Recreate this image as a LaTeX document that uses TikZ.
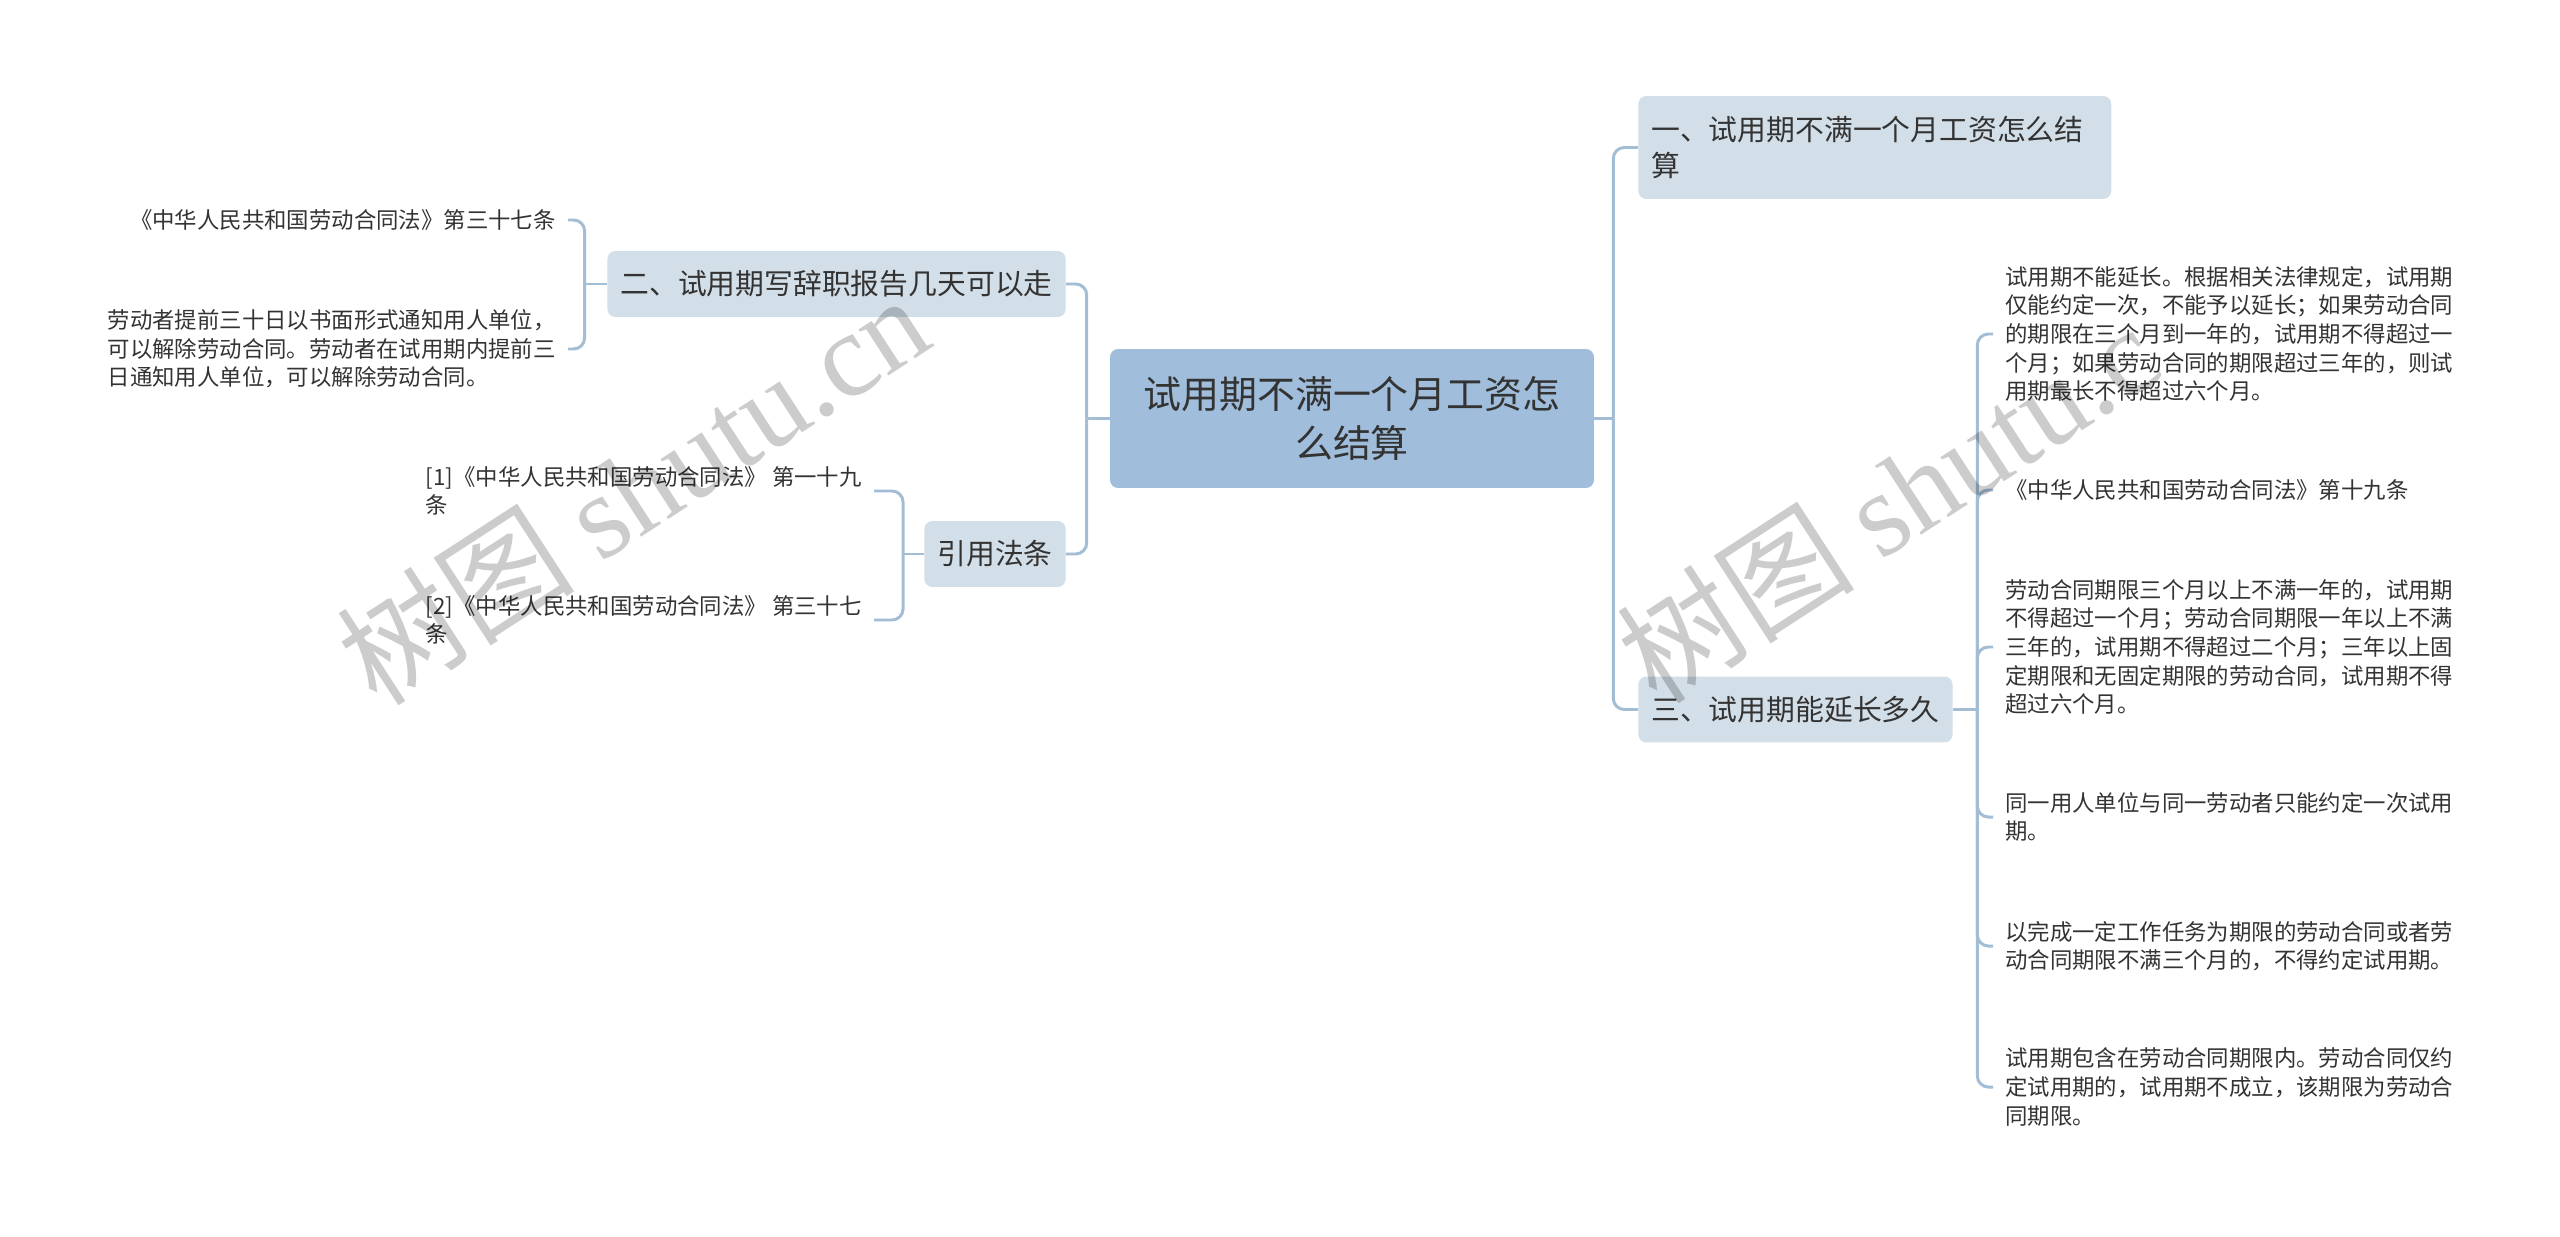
\documentclass[tikz,border=0pt]{standalone}
\usepackage{fontspec}
\setmainfont{Noto Sans CJK SC}
\newfontfamily\wmfont{Liberation Serif}
\usepackage{xcolor}
\usepackage{tikz}

\definecolor{rootblue}{HTML}{A0BEDB}
\definecolor{topicgray}{HTML}{D3DFE8}
\definecolor{linkblue}{HTML}{A3BDD5}
\definecolor{ink}{HTML}{333333}

\begin{document}
\begin{tikzpicture}[
  x=0.02cm, y=-0.02cm,
  every node/.style={text=ink, inner ysep=0pt},
  root/.style={fill=rootblue, rounded corners=0.16cm, align=center,
    minimum width=9.68cm, minimum height=2.78cm,
    font=\fontsize{21.6}{27.6}\selectfont},
  topic/.style={fill=topicgray, rounded corners=0.16cm, inner xsep=0.26cm,
    minimum height=1.32cm, font=\fontsize{16.4}{20.5}\selectfont},
  leaf/.style={inner xsep=0.24cm, align=left,
    font=\fontsize{12.75}{16.3}\selectfont},
  link/.style={draw=linkblue, line width=1.7pt, rounded corners=0.22cm},
  wmark/.style={text=black, opacity=0.2, rotate=33, anchor=base west,
    font=\fontsize{68}{68}\selectfont}
]
\path[use as bounding box, fill=white] (0,0) rectangle (2560,1237);

% centre
\node[root] (root) at (1352,418.5) {试用期不满一个月工资怎\\么结算};

% right side
\node[topic, anchor=west, text width=8.94cm, align=left, minimum height=2.06cm]
  (one) at (1638,147.5) {一、试用期不满一个月工资怎么结\\算};
\node[topic, anchor=west] (three) at (1638,709.5) {三、试用期能延长多久};

\node[leaf, anchor=west] (t1) at (1993,334) {试用期不能延长。根据相关法律规定，试用期\\仅能约定一次，不能予以延长；如果劳动合同\\的期限在三个月到一年的，试用期不得超过一\\个月；如果劳动合同的期限超过三年的，则试\\用期最长不得超过六个月。};
\node[leaf, anchor=west] (t2) at (1993,490) {《中华人民共和国劳动合同法》第十九条};
\node[leaf, anchor=west] (t3) at (1993,647) {劳动合同期限三个月以上不满一年的，试用期\\不得超过一个月；劳动合同期限一年以上不满\\三年的，试用期不得超过二个月；三年以上固\\定期限和无固定期限的劳动合同，试用期不得\\超过六个月。};
\node[leaf, anchor=west] (t4) at (1993,817) {同一用人单位与同一劳动者只能约定一次试用\\期。};
\node[leaf, anchor=west] (t5) at (1993,946) {以完成一定工作任务为期限的劳动合同或者劳\\动合同期限不满三个月的，不得约定试用期。};
\node[leaf, anchor=west] (t6) at (1993,1087) {试用期包含在劳动合同期限内。劳动合同仅约\\定试用期的，试用期不成立，该期限为劳动合\\同期限。};

% left side
\node[topic, anchor=east] (two) at (1066,284) {二、试用期写辞职报告几天可以走};
\node[topic, anchor=east] (cite) at (1066,554) {引用法条};

\node[leaf, anchor=east] (s1) at (568,220) {《中华人民共和国劳动合同法》第三十七条};
\node[leaf, anchor=east] (s2) at (568,349) {劳动者提前三十日以书面形式通知用人单位，\\可以解除劳动合同。劳动者在试用期内提前三\\日通知用人单位，可以解除劳动合同。};

\node[leaf, anchor=east] (c1) at (874,491) {[1]《中华人民共和国劳动合同法》 第一十九\\条};
\node[leaf, anchor=east] (c2) at (874,620) {[2]《中华人民共和国劳动合同法》 第三十七\\条};

% connectors
\draw[link] (root.east) -- ++(19,0) coordinate (rj);
\draw[link] (rj) |- (one.west);
\draw[link] (rj) |- (three.west);
\draw[link] (root.west) -- ++(-23,0) coordinate (lj);
\draw[link] (lj) |- (two.east);
\draw[link] (lj) |- (cite.east);

\draw[link] (three.east) -- ++(24.5,0) coordinate (tj);
\foreach \n in {t1,t2,t3,t4,t5,t6}
  \draw[link] (tj) |- (\n.west);
\draw[link] (two.west) -- ++(-22.5,0) coordinate (sj);
\foreach \n in {s1,s2}
  \draw[link] (sj) |- (\n.east);
\draw[link] (cite.west) -- ++(-21,0) coordinate (cj);
\foreach \n in {c1,c2}
  \draw[link] (cj) |- (\n.east);

% watermark
\node[wmark] (wm1) at (372,712) {树图 {\wmfont shutu.cn}};
\node[wmark] (wm2) at (1652,710) {树图 {\wmfont shutu.c}};
\end{tikzpicture}
\end{document}
